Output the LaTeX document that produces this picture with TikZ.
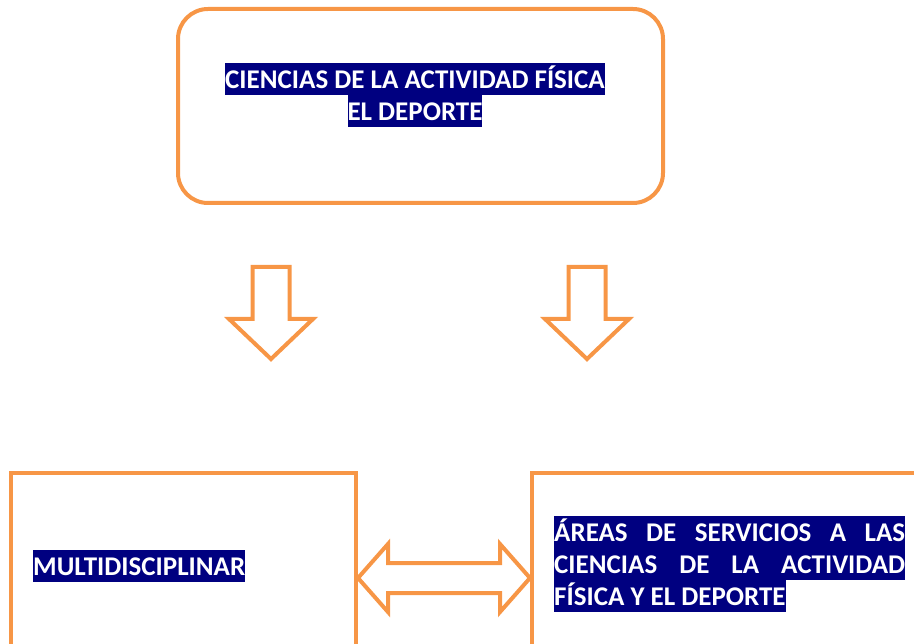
\documentclass[tikz,border=0pt]{standalone}
\usepackage{fontspec}
\setmainfont{Carlito}
\usepackage{xcolor}
\usetikzlibrary{positioning, calc}

\definecolor{boxorange}{RGB}{247,150,70}
\definecolor{hlnavy}{RGB}{0,0,128}
\newcommand{\hlbox}[1]{{\setlength{\fboxsep}{0pt}\colorbox{hlnavy}{\rule[-7pt]{0pt}{32pt}#1}}}

\begin{document}
\begin{tikzpicture}[
    x=1pt, y=-1pt,
    box/.style={rectangle, draw=boxorange, line width=4pt, minimum width=#1, minimum height=210pt, inner sep=0pt},
    hltext/.style={font=\fontsize{27}{32}\selectfont\bfseries, text=white, inner sep=0pt},
    blockarrow/.style={draw=boxorange, line width=4pt, line join=miter},
]
\useasboundingbox (0,0) rectangle (914,644);
\clip (0,0) rectangle (914,644);

% top box
\node[draw=boxorange, line width=4pt, rounded corners=30pt, minimum width=485pt, minimum height=194pt] (ciencias) at (420.5,106) {};
\node[hltext, align=center] (titulo) at (415,95.5) {\hlbox{CIENCIAS DE LA ACTIVIDAD FÍSICA}\\\hlbox{EL DEPORTE}};

% down arrows
\foreach \x/\name in {271/izq, 587/der} {
    \coordinate (flecha\name) at (\x,313);
    \draw[blockarrow, shift={(flecha\name)}] (-18.5,-46) -- (18.5,-46) -- (18.5,6) -- (42,6)
        -- (0,46) -- (-42,6) -- (-18.5,6) -- cycle;
}

% bottom boxes
\node[box=345pt] (multi) at (183.5,578) {};
\node[box=428pt] (areas) at (746,578) {};
\node[hltext, anchor=west] (multitext) at (33,566) {\hlbox{MULTIDISCIPLINAR}};
\node[hltext, anchor=north west, align=left] (areastext) at (554,516) {\hlbox{\makebox[351pt][s]{ÁREAS DE SERVICIOS A LAS}}\\\hlbox{\makebox[351pt][s]{CIENCIAS DE LA ACTIVIDAD}}\\\hlbox{FÍSICA Y EL DEPORTE}};

% double arrow between the boxes
\coordinate (enlace) at ($(multi.east)!0.5!(areas.west)$);
\draw[blockarrow, shift={(enlace)}] (-86,0) -- (-56,-34) -- (-56,-15) -- (56,-15) -- (56,-34)
    -- (86,0) -- (56,34) -- (56,15) -- (-56,15) -- (-56,34) -- cycle;

\end{tikzpicture}
\end{document}
